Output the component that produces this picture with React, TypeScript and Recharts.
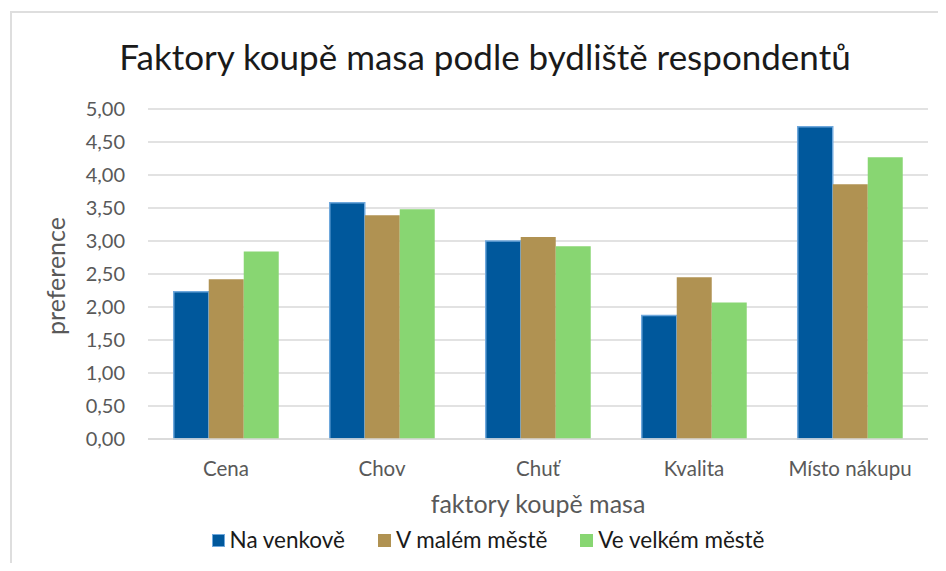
import React from "react";
import { BarChart, Bar, XAxis, YAxis, CartesianGrid } from "recharts";

const categories = ["Cena", "Chov", "Chuť", "Kvalita", "Místo nákupu"];
const naVenkove = [2.23, 3.58, 3.0, 1.87, 4.73];
const vMalemMeste = [2.42, 3.39, 3.06, 2.45, 3.86];
const veVelkemMeste = [2.84, 3.48, 2.92, 2.07, 4.27];
const yTicks = [0, 0.5, 1, 1.5, 2, 2.5, 3, 3.5, 4, 4.5, 5];

const seriesNames = ["Na venkově", "V malém městě", "Ve velkém městě"];
const colors = ["#00589C", "#B09252", "#88D672"];

const data = categories.map((c, i) => ({
  name: c,
  a: naVenkove[i],
  b: vMalemMeste[i],
  c: veVelkemMeste[i],
}));

const FONT = "Lato, 'Open Sans', sans-serif";
const W = 930;
const H = 555;

const fmt = (v: number) => v.toFixed(2).replace(".", ",");

const XTick = (props: any) => {
  const { x, y, payload } = props;
  return (
    <text x={x} y={y + 37} textAnchor="middle" fontFamily={FONT} fontSize={20.5} fill="#595959">
      {payload.value}
    </text>
  );
};

const YTick = (props: any) => {
  const { x, y, payload } = props;
  return (
    <text x={x - 23} y={y + 7} textAnchor="end" fontFamily={FONT} fontSize={20} fill="#595959">
      {fmt(payload.value)}
    </text>
  );
};

export default function App() {
  return (
    <div style={{ position: "relative", width: W, height: H, overflow: "hidden", background: "#fff" }}>
      <div
        style={{
          position: "absolute",
          left: 2,
          top: 3,
          width: W,
          height: H,
          borderTop: "2px solid #dedede",
          borderLeft: "2px solid #dedede",
          boxSizing: "border-box",
        }}
      />
      <BarChart
        width={W}
        height={H}
        data={data}
        margin={{ top: 101, right: 10, left: 0, bottom: 0 }}
        barCategoryGap="16.5%"
        barGap={0}
      >
        <CartesianGrid vertical={false} stroke="#d9d9d9" strokeWidth={1.5} />
        <XAxis
          dataKey="name"
          axisLine={{ stroke: "#d9d9d9", strokeWidth: 1.5 }}
          tickLine={false}
          tickSize={0}
          tickMargin={0}
          height={124}
          tick={<XTick />}
          interval={0}
        />
        <YAxis
          domain={[0, 5]}
          ticks={yTicks}
          width={140}
          axisLine={false}
          tickLine={false}
          tickSize={0}
          tickMargin={0}
          tick={<YTick />}
          interval={0}
        />
        <Bar dataKey="a" name={seriesNames[0]} fill={colors[0]} stroke="#6FA8DC" strokeWidth={1.5} isAnimationActive={false} />
        <Bar dataKey="b" name={seriesNames[1]} fill={colors[1]} isAnimationActive={false} />
        <Bar dataKey="c" name={seriesNames[2]} fill={colors[2]} isAnimationActive={false} />
      </BarChart>
      <svg
        width={W}
        height={H}
        style={{ position: "absolute", left: 0, top: 0, pointerEvents: "none" }}
      >
        <text x={477} y={62} textAnchor="middle" fontFamily={FONT} fontSize={35} fill="#1a1a1a">
          Faktory koupě masa podle bydliště respondentů
        </text>
        <text x={530} y={505} textAnchor="middle" fontFamily={FONT} fontSize={25} fill="#595959">
          faktory koupě masa
        </text>
        <text
          x={0}
          y={0}
          transform="translate(57, 268) rotate(-90)"
          textAnchor="middle"
          fontFamily={FONT}
          fontSize={25}
          fill="#595959"
        >
          preference
        </text>
      </svg>
      <div
        style={{
          position: "absolute",
          top: 518,
          left: 25,
          width: W - 20,
          display: "flex",
          justifyContent: "center",
          fontFamily: FONT,
          fontSize: 22.5,
          color: "#1a1a1a",
          lineHeight: "28px",
        }}
      >
        {seriesNames.map((s, i) => (
          <div key={s} style={{ display: "flex", alignItems: "center", marginRight: i < seriesNames.length - 1 ? 33 : 0 }}>
            <div
              style={{
                width: 13,
                height: 13,
                background: colors[i],
                border: i === 0 ? "1px solid #6FA8DC" : "none",
                boxSizing: "border-box",
                marginRight: 5,
              }}
            />
            <span>{s}</span>
          </div>
        ))}
      </div>
    </div>
  );
}
